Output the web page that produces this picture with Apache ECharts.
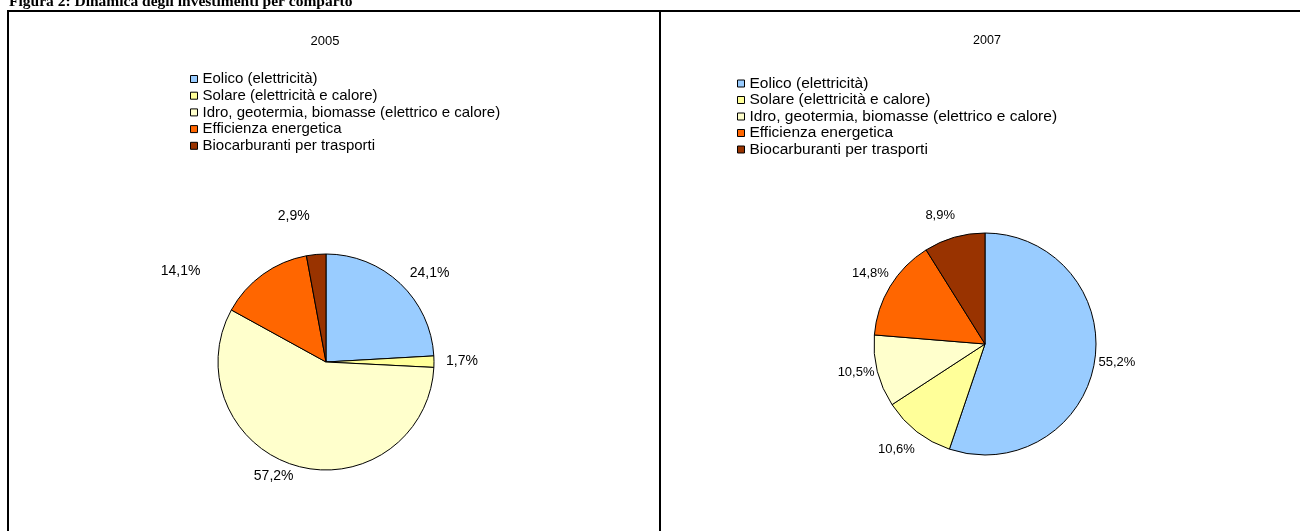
<!DOCTYPE html>
<html><head><meta charset="utf-8">
<script src="https://cdn.jsdelivr.net/npm/echarts@6/dist/echarts.min.js"></script>
<style>html,body{margin:0;padding:0;background:#fff}#c{width:1300px;height:531px}</style>
</head><body><div id="c"></div>
<script>
// ---- data ----
const categories = ['Eolico (elettricità)', 'Solare (elettricità e calore)', 'Idro, geotermia, biomasse (elettrico e calore)', 'Efficienza energetica', 'Biocarburanti per trasporti'];
const values2005 = [24.1, 1.7, 57.2, 14.1, 2.9];
const values2007 = [55.2, 10.6, 10.5, 14.8, 8.9];
const years = ['2005', '2007'];
const figureTitle = 'Figura 2: Dinamica degli investimenti per comparto';

// ---- style ----
const colors = ['#99CCFF', '#FFFF99', '#FFFFCC', '#FF6600', '#993300'];
const leader2005 = [[14, 0], [12, 0], [11, 0], [4, 60], [38, 3]];
const leader2007 = [[4, 0], [23, -12], [3, 0], [25, -20], [23, -7]];
const fmt = p => p.value.toFixed(1).replace('.', ',') + '%';
const FONT = 'Liberation Sans, Arial, sans-serif';

function pieSeries(values, leader, center, radius, fontSize) {
  return {
    type: 'pie', center: center, radius: radius, startAngle: 90, clockwise: true,
    avoidLabelOverlap: false, animation: false,
    emphasis: { scale: false, disabled: true },
    itemStyle: { borderColor: '#000', borderWidth: 1 },
    label: { position: 'outside', formatter: fmt, fontSize: fontSize, fontFamily: FONT, color: '#000', distanceToLabelLine: 0 },
    labelLine: { show: false },
    data: categories.map((n, i) => ({
      name: n, value: values[i],
      itemStyle: { color: colors[i] },
      labelLine: { show: false, length: leader[i][0], length2: leader[i][1] }
    }))
  };
}

function legend(left, top, fontSize, gap) {
  return {
    orient: 'vertical', left: left, top: top, icon: 'rect',
    itemWidth: 7, itemHeight: 7, itemGap: gap, itemTextGap: 7, padding: 0,
    selectedMode: false,
    itemStyle: { borderColor: '#000', borderWidth: 1 },
    textStyle: { fontSize: fontSize, fontFamily: FONT, color: '#000', lineHeight: 15 },
    data: categories
  };
}

const chart = echarts.init(document.getElementById('c'));
chart.setOption({
  backgroundColor: '#fff',
  color: colors,
  legend: [legend(190, 71.5, 15, 1.7), legend(737, 75.5, 15.5, 0.5)],
  series: [
    pieSeries(values2005, leader2005, [326, 362], 108, 14),
    pieSeries(values2007, leader2007, [985, 344], 111, 13)
  ],
  graphic: [
    { type: 'text', x: 9, y: 1.5, style: { text: figureTitle, font: 'bold 15.5px "Liberation Serif", "Times New Roman", serif', fill: '#000', verticalAlign: 'middle', align: 'left' } },
    { type: 'line', shape: { x1: 7, y1: 11, x2: 1300, y2: 11 }, style: { stroke: '#000', lineWidth: 2 } },
    { type: 'line', shape: { x1: 8, y1: 10, x2: 8, y2: 531 }, style: { stroke: '#000', lineWidth: 2 } },
    { type: 'line', shape: { x1: 660, y1: 10, x2: 660, y2: 531 }, style: { stroke: '#000', lineWidth: 2 } },
    { type: 'text', x: 325, y: 41, style: { text: years[0], font: '13px ' + FONT, fill: '#000', align: 'center', verticalAlign: 'middle' } },
    { type: 'text', x: 987, y: 41, style: { text: years[1], font: '12.5px ' + FONT, fill: '#000', align: 'center', verticalAlign: 'middle' } }
  ]
});
</script>
</body></html>
